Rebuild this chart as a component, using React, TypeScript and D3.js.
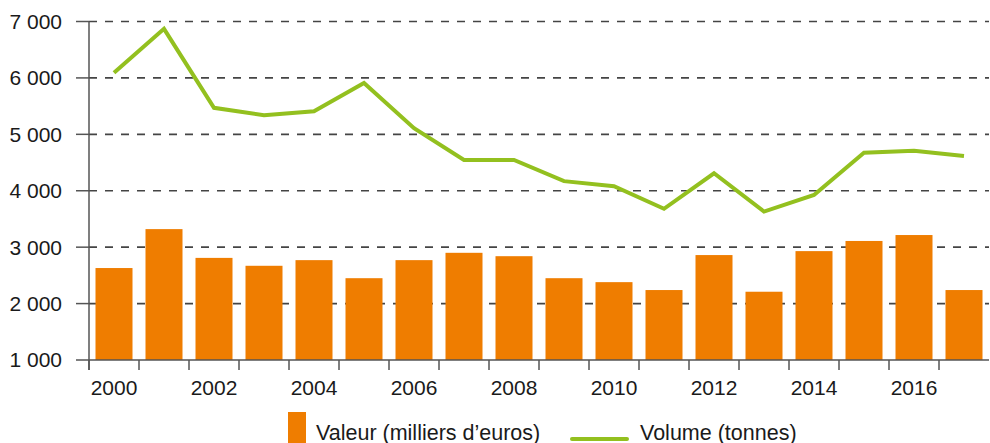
import React, { useEffect, useRef } from 'react'
import * as d3 from 'd3'

const years = [2000, 2001, 2002, 2003, 2004, 2005, 2006, 2007, 2008, 2009, 2010, 2011, 2012, 2013, 2014, 2015, 2016, 2017]
const valeur = [2630, 3320, 2810, 2670, 2770, 2450, 2770, 2900, 2840, 2450, 2380, 2240, 2860, 2210, 2930, 3110, 3215, 2240]
const volume = [6090, 6870, 5470, 5340, 5410, 5910, 5110, 4545, 4545, 4170, 4080, 3680, 4310, 3630, 3925, 4675, 4710, 4615]
const yTicks = [1000, 2000, 3000, 4000, 5000, 6000, 7000]
const legendLabels = ['Valeur (milliers d\u2019euros)', 'Volume (tonnes)']

const ORANGE = '#ef7d00'
const GREEN = '#93c01f'
const FONT = '"Liberation Sans", Arial, sans-serif'

const App = () => {
  const ref = useRef<SVGSVGElement>(null)

  useEffect(() => {
    const svg = d3.select(ref.current)
    svg.selectAll('*').remove()

    const left = 89
    const right = 989
    const top = 21.5
    const bottom = 360

    const x = d3
      .scaleBand<number>()
      .domain(years)
      .range([left, right])
      .paddingInner(0.26)
      .paddingOuter(0.13)
    const y = d3.scaleLinear().domain([1000, 7000]).range([bottom, top])
    const step = x.step()
    const off = (step - x.bandwidth()) / 2

    // gridlines
    svg
      .append('g')
      .selectAll('line')
      .data(yTicks.filter((t) => t > 1000))
      .enter()
      .append('line')
      .attr('x1', left)
      .attr('x2', right)
      .attr('y1', (d) => y(d))
      .attr('y2', (d) => y(d))
      .attr('stroke', '#444')
      .attr('stroke-width', 1.6)
      .attr('stroke-dasharray', '8,8')

    // bars
    svg
      .append('g')
      .selectAll('rect')
      .data(valeur)
      .enter()
      .append('rect')
      .attr('x', (d, i) => x(years[i])!)
      .attr('y', (d) => y(d))
      .attr('width', x.bandwidth())
      .attr('height', (d) => y(1000) - y(d))
      .attr('fill', ORANGE)

    // y axis
    const ya = svg.append('g')
    ya.append('line')
      .attr('x1', left)
      .attr('x2', left)
      .attr('y1', top)
      .attr('y2', bottom + 10)
      .attr('stroke', '#555')
      .attr('stroke-width', 1.5)
    ya.selectAll('line.tick')
      .data(yTicks)
      .enter()
      .append('line')
      .attr('class', 'tick')
      .attr('x1', left - 13)
      .attr('x2', left)
      .attr('y1', (d) => y(d))
      .attr('y2', (d) => y(d))
      .attr('stroke', '#555')
      .attr('stroke-width', 1.5)
    ya.selectAll('text')
      .data(yTicks)
      .enter()
      .append('text')
      .attr('x', 62)
      .attr('y', (d) => y(d))
      .attr('dy', '0.35em')
      .attr('text-anchor', 'end')
      .style('font-family', FONT)
      .style('font-size', '21px')
      .attr('fill', '#1a1a1a')
      .text((d) => d3.format(',')(d).replace(',', ' '))

    // x axis
    const xa = svg.append('g')
    xa.append('line')
      .attr('x1', left)
      .attr('x2', right)
      .attr('y1', bottom)
      .attr('y2', bottom)
      .attr('stroke', '#555')
      .attr('stroke-width', 1.5)
    xa.selectAll('line.tick')
      .data(years)
      .enter()
      .append('line')
      .attr('class', 'tick')
      .attr('x1', (d) => x(d)! - off)
      .attr('x2', (d) => x(d)! - off)
      .attr('y1', bottom)
      .attr('y2', bottom + 10)
      .attr('stroke', '#555')
      .attr('stroke-width', 1.5)
    xa.selectAll('text')
      .data(years.filter((d) => d % 2 === 0))
      .enter()
      .append('text')
      .attr('x', (d) => x(d)! + x.bandwidth() / 2)
      .attr('y', 395)
      .attr('text-anchor', 'middle')
      .style('font-family', FONT)
      .style('font-size', '21px')
      .attr('fill', '#1a1a1a')
      .text((d) => String(d))

    // line
    const line = d3
      .line<number>()
      .x((d, i) => x(years[i])! + x.bandwidth() / 2)
      .y((d) => y(d))
    svg
      .append('path')
      .datum(volume)
      .attr('d', line)
      .attr('fill', 'none')
      .attr('stroke', GREEN)
      .attr('stroke-width', 4)
      .attr('stroke-linejoin', 'miter')

    // legend
    const lg = svg.append('g')
    lg.append('rect').attr('x', 288).attr('y', 412).attr('width', 18).attr('height', 31).attr('fill', ORANGE)
    lg.append('text')
      .attr('x', 316)
      .attr('y', 440)
      .style('font-family', FONT)
      .style('font-size', '21.5px')
      .attr('fill', '#1a1a1a')
      .text(legendLabels[0])
    lg.append('line')
      .attr('x1', 572)
      .attr('x2', 627)
      .attr('y1', 439)
      .attr('y2', 439)
      .attr('stroke', GREEN)
      .attr('stroke-width', 4)
      .attr('stroke-linecap', 'round')
    lg.append('text')
      .attr('x', 640)
      .attr('y', 440)
      .style('font-family', FONT)
      .style('font-size', '21.5px')
      .attr('fill', '#1a1a1a')
      .text(legendLabels[1])
  }, [])

  return (
    <svg
      ref={ref}
      width={990}
      height={443}
      style={{ position: 'absolute', left: 0, top: 0, display: 'block', background: '#fff' }}
    />
  )
}

export default App
